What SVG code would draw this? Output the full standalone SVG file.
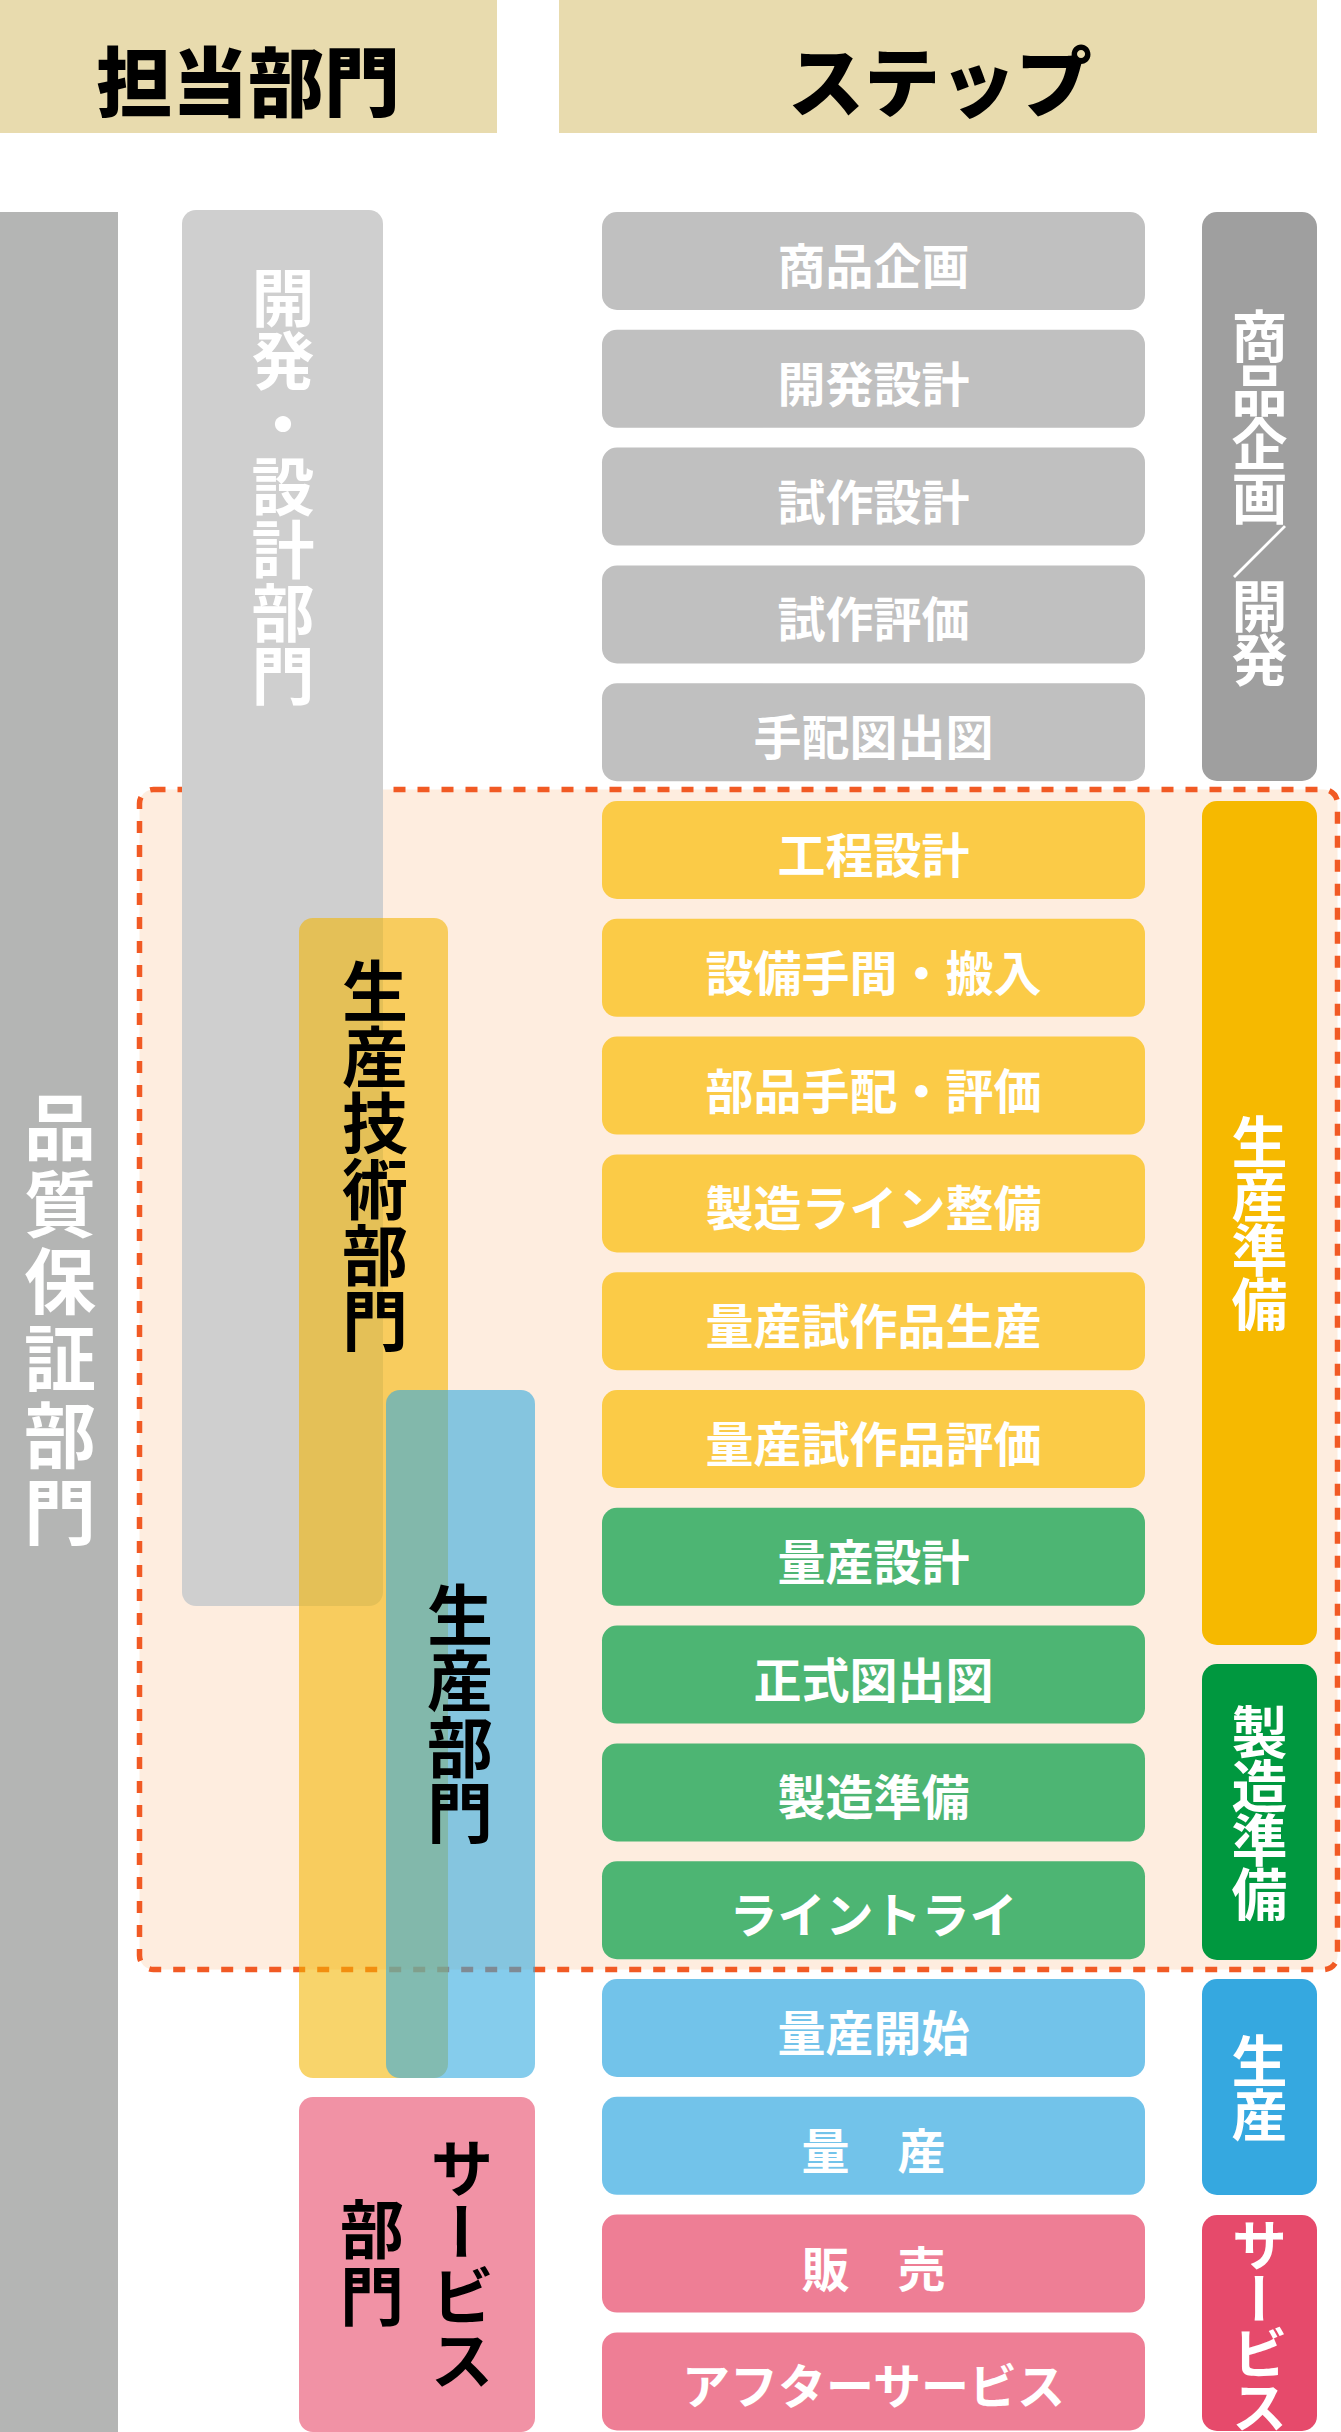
<svg xmlns="http://www.w3.org/2000/svg" width="1341" height="2432" viewBox="0 0 1341 2432">
<style>
text{font-family:"Noto Sans CJK JP","Noto Sans CJK SC",sans-serif;font-weight:700}
.hd{fill:#e8dbae}
.ht{font-size:76px;font-weight:900;fill:#000;text-anchor:middle;dominant-baseline:central}
.st{font-size:48px;fill:#fff;text-anchor:middle;dominant-baseline:central}
.vt{writing-mode:vertical-rl;text-anchor:middle}
.rb{font-size:56px;fill:#fff;letter-spacing:-2px}
.g{fill:#c0c0c0}.y{fill:#fbcb47}.gr{fill:#4db573}.b{fill:#72c3ea}.p{fill:#ee7e95}
</style>
<rect width="1341" height="2432" fill="#fff"/>
<g id="header-dept"><rect class="hd" x="0" y="0" width="497" height="133"/><text class="ht" x="248" y="78">担当部門</text></g>
<g id="header-step"><rect class="hd" x="559" y="0" width="758" height="133"/><text class="ht" x="940" y="78">ステップ</text></g>
<g id="quality-dept"><rect x="0" y="212" width="118" height="2220" fill="#b4b5b4"/><text class="vt" x="60" y="1322" style="font-size:72px;fill:#fff;letter-spacing:5px">品質保証部門</text></g>
<g id="production-area"><rect x="139.5" y="789.5" width="1198" height="1180" rx="14" fill="#feeddf" stroke="#f15a24" stroke-width="5.5" stroke-dasharray="12 12"/></g>
<g id="dev-dept"><rect x="182" y="210" width="201" height="1396" rx="14" fill="#cfcfcf"/><text class="vt" x="283" y="486" style="font-size:63px;fill:#fff">開発・設計部門</text></g>
<g id="steps">
<g id="s0"><rect class="g" x="602" y="212" width="543" height="98" rx="15"/><text class="st" x="873.5" y="263">商品企画</text></g>
<g id="s1"><rect class="g" x="602" y="329.8" width="543" height="98" rx="15"/><text class="st" x="873.5" y="380.8">開発設計</text></g>
<g id="s2"><rect class="g" x="602" y="447.6" width="543" height="98" rx="15"/><text class="st" x="873.5" y="498.6">試作設計</text></g>
<g id="s3"><rect class="g" x="602" y="565.4" width="543" height="98" rx="15"/><text class="st" x="873.5" y="616.4">試作評価</text></g>
<g id="s4"><rect class="g" x="602" y="683.2" width="543" height="98" rx="15"/><text class="st" x="873.5" y="734.2">手配図出図</text></g>
<g id="s5"><rect class="y" x="602" y="801" width="543" height="98" rx="15"/><text class="st" x="873.5" y="852">工程設計</text></g>
<g id="s6"><rect class="y" x="602" y="918.8" width="543" height="98" rx="15"/><text class="st" x="873.5" y="969.8">設備手間・搬入</text></g>
<g id="s7"><rect class="y" x="602" y="1036.6" width="543" height="98" rx="15"/><text class="st" x="873.5" y="1087.6">部品手配・評価</text></g>
<g id="s8"><rect class="y" x="602" y="1154.4" width="543" height="98" rx="15"/><text class="st" x="873.5" y="1205.4">製造ライン整備</text></g>
<g id="s9"><rect class="y" x="602" y="1272.2" width="543" height="98" rx="15"/><text class="st" x="873.5" y="1323.2">量産試作品生産</text></g>
<g id="s10"><rect class="y" x="602" y="1390" width="543" height="98" rx="15"/><text class="st" x="873.5" y="1441">量産試作品評価</text></g>
<g id="s11"><rect class="gr" x="602" y="1507.8" width="543" height="98" rx="15"/><text class="st" x="873.5" y="1558.8">量産設計</text></g>
<g id="s12"><rect class="gr" x="602" y="1625.6" width="543" height="98" rx="15"/><text class="st" x="873.5" y="1676.6">正式図出図</text></g>
<g id="s13"><rect class="gr" x="602" y="1743.4" width="543" height="98" rx="15"/><text class="st" x="873.5" y="1794.4">製造準備</text></g>
<g id="s14"><rect class="gr" x="602" y="1861.2" width="543" height="98" rx="15"/><text class="st" x="873.5" y="1912.2">ライントライ</text></g>
<g id="s15"><rect class="b" x="602" y="1979" width="543" height="98" rx="15"/><text class="st" x="873.5" y="2030">量産開始</text></g>
<g id="s16"><rect class="b" x="602" y="2096.8" width="543" height="98" rx="15"/><text class="st" x="873.5" y="2147.8">量　産</text></g>
<g id="s17"><rect class="p" x="602" y="2214.6" width="543" height="98" rx="15"/><text class="st" x="873.5" y="2265.6">販　売</text></g>
<g id="s18"><rect class="p" x="602" y="2332.4" width="543" height="98" rx="15"/><text class="st" x="873.5" y="2383.4">アフターサービス</text></g>
</g>
<g id="phase-plan"><rect x="1202" y="212" width="115" height="569" rx="15" fill="#9f9f9f"/><text class="vt rb" x="1259.5" y="497">商品企画／開発</text></g>
<g id="phase-prep"><rect x="1202" y="801" width="115" height="844" rx="15" fill="#f6b900"/><text class="vt rb" x="1259.5" y="1222">生産準備</text></g>
<g id="phase-mfg"><rect x="1202" y="1664" width="115" height="296" rx="15" fill="#00983f"/><text class="vt rb" x="1259.5" y="1812">製造準備</text></g>
<g id="phase-prod"><rect x="1202" y="1979" width="115" height="216" rx="15" fill="#35a8e0"/><text class="vt rb" x="1259.5" y="2087">生産</text></g>
<g id="phase-service"><rect x="1202" y="2215" width="115" height="216" rx="15" fill="#e64a6b"/><text class="vt rb" x="1259.5" y="2325">サービス</text></g>
<g id="prodtech-dept"><rect x="299" y="918" width="149" height="1160" rx="14" fill="#f3b500" fill-opacity="0.58"/><text class="vt" x="375" y="1156" style="font-size:66px;fill:#000">生産技術部門</text></g>
<g id="prod-dept"><rect x="386" y="1390" width="149" height="688" rx="14" fill="#33aae0" fill-opacity="0.6"/><text class="vt" x="460" y="1714" style="font-size:66px;fill:#000">生産部門</text></g>
<g id="service-dept"><rect x="299" y="2097" width="236" height="335" rx="14" fill="#f192a5"/><text class="vt" x="462" y="2264" style="font-size:64px;fill:#000">サービス</text><text class="vt" x="372" y="2264" style="font-size:64px;fill:#000;letter-spacing:3px">部門</text></g>
</svg>
